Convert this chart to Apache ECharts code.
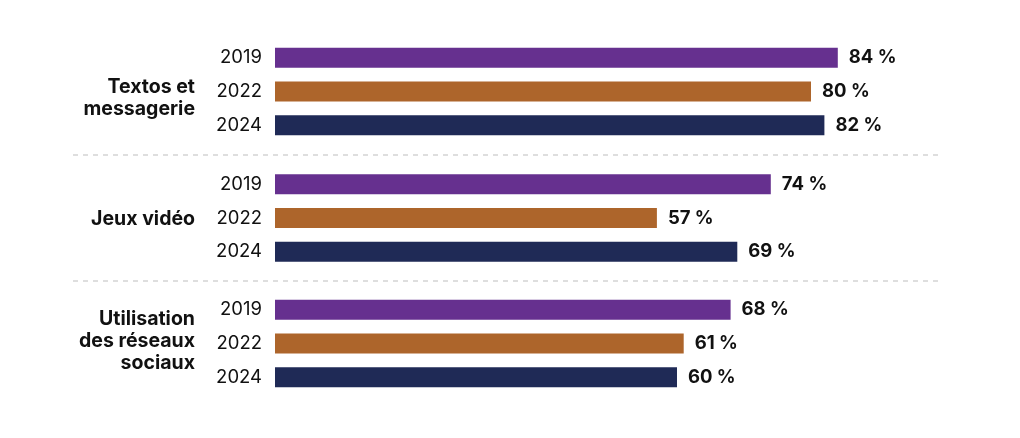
<!DOCTYPE html>
<html>
<head>
<meta charset="utf-8">
<script src="https://cdn.jsdelivr.net/npm/echarts@6/dist/echarts.min.js"></script>
<style>
html,body{margin:0;padding:0;background:#fff;}
#chart{width:1020px;height:438px;}
</style>
</head>
<body>
<div id="chart"></div>
<script>
var groups = ['Textos et\nmessagerie', 'Jeux vidéo', 'Utilisation\ndes réseaux\nsociaux'];
var years = ['2019', '2022', '2024'];
var v2019 = [84, 74, 68];
var v2022 = [80, 57, 61];
var v2024 = [82, 69, 60];
var yearColors = ['#66308f', '#ad652b', '#1f2a56'];

var FONT = 'Inter, "Noto Sans", sans-serif';
var gridTops = [41, 167.5, 293];
var gridH = 101;
var groupShift = [7, 1, -2];

var grids = [], xAxes = [], yAxes = [], series = [];
groups.forEach(function (g, i) {
  // bar grid
  grids.push({ left: 275, right: 75, top: gridTops[i], height: gridH });
  xAxes.push({ type: 'value', gridIndex: grids.length - 1, min: 0, max: 100, show: false });
  yAxes.push({
    type: 'category', gridIndex: grids.length - 1, data: years, inverse: true,
    axisLine: { show: false }, axisTick: { show: false },
    axisLabel: { color: '#111', fontSize: 18.5, fontFamily: FONT, margin: 13 }
  });
  var barAxis = yAxes.length - 1;
  var barX = xAxes.length - 1;
  // group label grid
  grids.push({ left: 275, right: 75, top: gridTops[i] + groupShift[i], height: gridH });
  xAxes.push({ type: 'value', gridIndex: grids.length - 1, min: 0, max: 100, show: false });
  yAxes.push({
    type: 'category', gridIndex: grids.length - 1, data: [g], position: 'left',
    axisLine: { show: false }, axisTick: { show: false },
    axisLabel: {
      color: '#111', fontSize: 19.5, fontWeight: 'bold', fontFamily: FONT,
      margin: 80, align: 'right', lineHeight: 22
    }
  });
  var vals = [v2019[i], v2022[i], v2024[i]];
  series.push({
    type: 'bar', xAxisIndex: barX, yAxisIndex: barAxis, barWidth: 20,
    data: vals.map(function (v, k) {
      return { value: v, itemStyle: { color: yearColors[k] } };
    }),
    label: {
      show: true, position: 'right', distance: 11,
      formatter: '{c} %', color: '#111', fontSize: 18.5, fontWeight: 'bold', fontFamily: FONT
    },
    silent: true, animation: false
  });
});

var chart = echarts.init(document.getElementById('chart'));
chart.setOption({
  backgroundColor: '#fff',
  animation: false,
  grid: grids,
  xAxis: xAxes,
  yAxis: yAxes,
  series: series,
  graphic: [155, 281].map(function (y) {
    return {
      type: 'line', silent: true,
      shape: { x1: 73, y1: y, x2: 943, y2: y },
      style: { stroke: '#bdbdbd', lineWidth: 1, lineDash: [5, 5] }
    };
  })
});
</script>
</body>
</html>
